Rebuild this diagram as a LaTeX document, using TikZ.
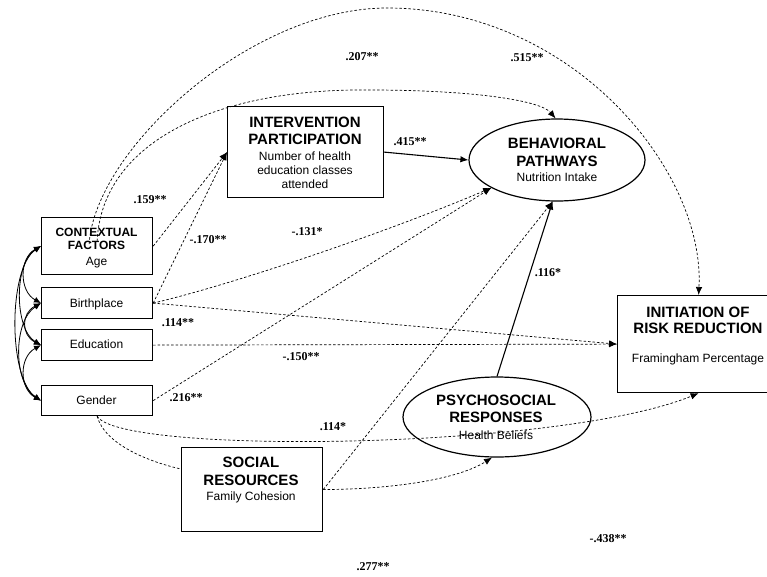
\documentclass[tikz,border=0pt]{standalone}
\usepackage{fontspec}
\setmainfont{Liberation Sans}
\newfontfamily\numfont{Liberation Serif}
\usetikzlibrary{arrows.meta,shapes.geometric,calc}
\begin{document}
\begin{tikzpicture}[x=1pt,y=-1pt,
  box/.style={draw, line width=1.2pt, rectangle, inner sep=0pt, anchor=north west},
  ell/.style={draw, ellipse, line width=1.2pt, inner sep=0pt},
  hd/.style={font=\bfseries\fontsize{15}{17}\selectfont, anchor=base, inner sep=0pt},
  hds/.style={font=\bfseries\fontsize{12}{14}\selectfont, anchor=base, inner sep=0pt},
  sub/.style={font=\fontsize{12}{14}\selectfont, anchor=base, inner sep=0pt},
  num/.style={font=\numfont\bfseries\fontsize{12}{14}\selectfont, inner sep=0pt},
  dsh/.style={dash pattern=on 2.5pt off 2pt, line width=0.7pt},
  sld/.style={line width=1.1pt},
  arr/.style={-{Latex[length=8pt,width=6.5pt]}},
  cov/.style={{Latex[length=7pt,width=6pt]}-{Latex[length=7pt,width=6pt]}, line width=0.8pt}]
\useasboundingbox (0,0) rectangle (767,576);
\clip (0,0) rectangle (767,576);
\fill[white] (0,0) rectangle (767,576);

% boxes
\node[box, minimum width=111pt, minimum height=57pt] (ctx) at (41,217) {};
\node[box, minimum width=111pt, minimum height=31pt] (bp) at (41,287) {};
\node[box, minimum width=111pt, minimum height=31pt] (edu) at (41,329) {};
\node[box, minimum width=111pt, minimum height=30pt] (gen) at (41,385) {};
\node[box, minimum width=156pt, minimum height=91pt] (int) at (227,106) {};
\node[box, minimum width=162pt, minimum height=97pt] (ini) at (617,295) {};
\node[box, minimum width=141pt, minimum height=84pt] (soc) at (181,447) {};
\node[ell, minimum width=176pt, minimum height=82pt] (beh) at (557,160) {};
\node[ell, minimum width=188pt, minimum height=80pt] (psy) at (497,417) {};

% texts
\node[hds] (ctx1) at (96.5,236.5) {CONTEXTUAL};
\node[hds] (ctx2) at (96.5,249.5) {FACTORS};
\node[sub] (ctx3) at (96.5,265) {Age};
\node[sub] (bpt) at (96.5,307) {Birthplace};
\node[sub] (edut) at (96.5,348) {Education};
\node[sub] (gent) at (96.5,404) {Gender};
\node[hd] (int1) at (305,127.5) {INTERVENTION};
\node[hd] (int2) at (305,144.5) {PARTICIPATION};
\node[sub] (int3) at (305,160.5) {Number of health};
\node[sub] (int4) at (305,174.5) {education classes};
\node[sub] (int5) at (305,188.5) {attended};
\node[hd] (beh1) at (557,148.5) {BEHAVIORAL};
\node[hd] (beh2) at (557,166.5) {PATHWAYS};
\node[sub] (beh3) at (557,181.5) {Nutrition Intake};
\node[hd] (ini1) at (698,317.5) {INITIATION OF};
\node[hd] (ini2) at (698,333.5) {RISK REDUCTION};
\node[sub] (ini3) at (698,362.5) {Framingham Percentage};
\node[hd] (psy1) at (496,405.5) {PSYCHOSOCIAL};
\node[hd] (psy2) at (496,422.5) {RESPONSES};
\node[sub] (psy3) at (496,439.5) {Health Beliefs};
\node[hd] (soc1) at (251,467.5) {SOCIAL};
\node[hd] (soc2) at (251,485.5) {RESOURCES};
\node[sub] (soc3) at (251,500.5) {Family Cohesion};

% covariances
\draw[cov] (ctx.west) .. controls +(-22,12) and +(-22,-12) .. (bp.west);
\draw[cov] (ctx.west) .. controls +(-27,16) and +(-27,-16) .. (edu.west);
\draw[cov] (ctx.west) .. controls +(-33,22) and +(-33,-22) .. (gen.west);
\draw[cov] (bp.west) .. controls +(-20,10) and +(-20,-10) .. (edu.west);
\draw[cov] (bp.west) .. controls +(-28,18) and +(-28,-18) .. (gen.west);
\draw[cov] (edu.west) .. controls +(-22,12) and +(-22,-12) .. (gen.west);

% paths
\draw[dsh,arr] (ctx.east) -- (int.west);
\draw[dsh,arr] (bp.east) -- (int.west);
\draw[dsh,arr] (bp.east) .. controls (230,285) and (380,235) .. (beh.203);
\draw[dsh,arr] (gen.east) -- (beh.203);
\draw[dsh,arr] (bp.east) -- (ini.west);
\draw[dsh,arr] (edu.east) -- (ini.west);
\draw[sld,arr] (int.east) -- (beh.west);
\draw[dsh,arr] (soc.east) -- (beh.264);
\draw[sld,arr] (psy.north) -- (beh.264);
\draw[dsh,arr] (soc.east) .. controls (400,489) and (460,478) .. (psy.263);
\draw[dsh] (gen.south) .. controls (105,445) and (150,462) .. ($(soc.north west)+(0,22)$);
\draw[dsh,arr] (gen.south) .. controls (120,455) and (560,450) .. (ini.south);
\draw[dsh,arr] ($(ctx.center)+(-8,-2)$) .. controls (95,150) and (250,8) .. (387,8)
   .. controls (572,8) and (705,170) .. (ini.north);
\draw[dsh,arr] ($(ctx.center)+(0,-5)$) .. controls (102,140) and (220,88) .. (370,90)
   .. controls (470,90) and (540,100) .. (beh.92);

% coefficients
\node[num] (l207) at (362,57) {.207**};
\node[num] (l515) at (527,58) {.515**};
\node[num] (l159) at (150,200) {.159**};
\node[num] (l170) at (208,240) {-.170**};
\node[num] (l131) at (307,232) {-.131*};
\node[num] (l415) at (410,142) {.415**};
\node[num] (l116) at (548,273) {.116*};
\node[num] (l114a) at (178,323) {.114**};
\node[num] (l150) at (301,357) {-.150**};
\node[num] (l216) at (186,398) {.216**};
\node[num] (l114b) at (333,427) {.114*};
\node[num] (l438) at (608,539) {-.438**};
\node[num] (l277) at (373,567) {.277**};
\end{tikzpicture}
\end{document}
